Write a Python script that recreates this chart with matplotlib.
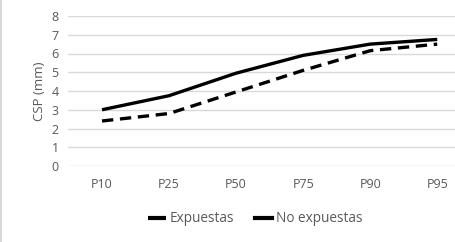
import matplotlib.pyplot as plt
from matplotlib.patches import Rectangle

# percentiles and CSP values (mm)
categorias = ['P10', 'P25', 'P50', 'P75', 'P90', 'P95']
expuestas = [3.0, 3.75, 4.95, 5.9, 6.5, 6.75]
no_expuestas = [2.4, 2.8, 3.95, 5.1, 6.15, 6.5]

plt.rcParams['font.family'] = ['Open Sans', 'DejaVu Sans']
gris = '#595959'

fig = plt.figure(figsize=(4.56, 2.42), dpi=100)
ax = fig.add_axes([68.5 / 456, 76 / 242, (456 - 68.5) / 456, 150 / 242])

x = range(len(categorias))
ax.plot(x, expuestas, color='black', lw=2.4, solid_capstyle='butt', label='Expuestas')
l2, = ax.plot(x, no_expuestas, color='black', lw=2.4, dash_capstyle='butt', label='No expuestas')
l2.set_dashes([3.4, 2])

ax.set_xlim(-0.5, 5.28)
ax.set_ylim(0, 8)
ax.set_yticks(range(0, 9))
ax.set_xticks(list(x))
ax.set_xticklabels(categorias)
ax.grid(axis='y', color='#d9d9d9', lw=1)
ax.set_axisbelow(True)
for s in ax.spines.values():
    s.set_visible(False)
ax.tick_params(length=0, colors=gris, labelsize=9)
ax.tick_params(axis='x', pad=9)
ax.tick_params(axis='y', pad=7)
ax.set_ylabel('CSP (mm)', color=gris, fontsize=9.5, labelpad=4)

leg = fig.legend(loc='center', bbox_to_anchor=(0.56, (242 - 219) / 242),
                 ncol=2, frameon=False, fontsize=9.8, handlelength=1.3,
                 handletextpad=0.3, columnspacing=1.5, labelcolor=gris)
for h in leg.get_lines():
    h.set_linestyle('-')
    h.set_linewidth(3)

fig.patches.append(Rectangle((0.003, -0.01), 1.1, 1.1, transform=fig.transFigure,
                             fill=False, edgecolor='#d9d9d9', lw=1.5))

fig.savefig('out.png', dpi=100)
